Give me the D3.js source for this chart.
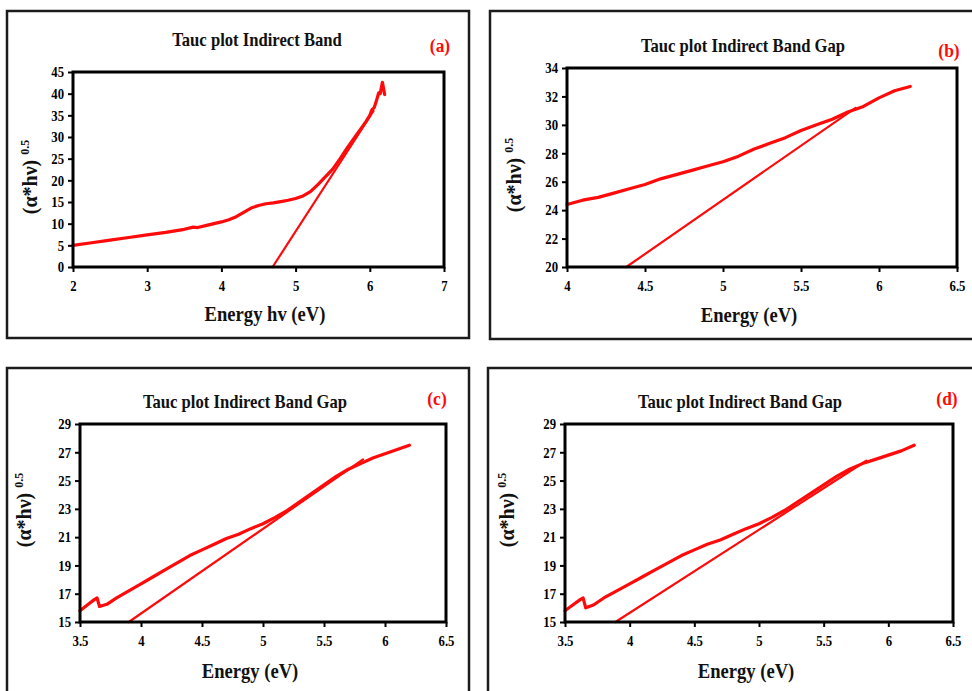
<!DOCTYPE html>
<html>
<head>
<meta charset="utf-8">
<script src="https://cdn.jsdelivr.net/npm/d3@7"></script>
<style>
  html, body { margin: 0; padding: 0; background: #ffffff; }
  svg { display: block; }
</style>
</head>
<body>
<div id="chart"></div>
<script>
// ---------- Data ----------
const panelTags = ["(a)", "(b)", "(c)", "(d)"];
const panelTitles = [
  "Tauc plot Indirect Band",
  "Tauc plot Indirect Band Gap",
  "Tauc plot Indirect Band Gap",
  "Tauc plot Indirect Band Gap"
];
const xAxisTitles = ["Energy hv (eV)", "Energy (eV)", "Energy (eV)", "Energy (eV)"];
const yAxisTitle = "(\u03b1*h\u03bd) ";
const yAxisPower = "0.5";

// (a) measured curve and linear extrapolation
const aEnergy = [2.0, 2.25, 2.5, 2.75, 3.0, 3.25, 3.5, 3.62, 3.68, 3.8, 4.0, 4.1, 4.2, 4.3, 4.4, 4.5, 4.6, 4.7, 4.8, 4.9, 5.0, 5.1, 5.2, 5.3, 5.4, 5.5, 5.6, 5.7, 5.8, 5.9, 5.95, 6.0, 6.03, 6.06, 6.09, 6.12, 6.14, 6.17, 6.2];
const aTauc   = [5.0, 5.6, 6.2, 6.8, 7.4, 8.0, 8.7, 9.2, 9.1, 9.6, 10.4, 10.9, 11.6, 12.6, 13.6, 14.2, 14.6, 14.8, 15.1, 15.4, 15.8, 16.4, 17.4, 19.0, 20.8, 22.6, 25.0, 27.6, 30.0, 32.4, 33.6, 35.0, 36.3, 36.8, 38.4, 40.2, 40.0, 42.6, 39.8];
const aFitEnergy = [4.69, 6.05];
const aFitTauc   = [0, 36.0];
const aXTicks = [2, 3, 4, 5, 6, 7];
const aYTicks = [0, 5, 10, 15, 20, 25, 30, 35, 40, 45];

// (b)
const bEnergy = [4.0, 4.1, 4.2, 4.3, 4.4, 4.5, 4.6, 4.7, 4.8, 4.9, 5.0, 5.1, 5.2, 5.3, 5.4, 5.5, 5.6, 5.7, 5.8, 5.9, 6.0, 6.1, 6.2];
const bTauc   = [24.4, 24.7, 24.9, 25.2, 25.5, 25.8, 26.2, 26.5, 26.8, 27.1, 27.4, 27.8, 28.3, 28.7, 29.1, 29.6, 30.0, 30.4, 30.9, 31.3, 31.9, 32.4, 32.7];
const bFitEnergy = [4.38, 5.85];
const bFitTauc   = [20, 31.2];
const bXTicks = [4, 4.5, 5, 5.5, 6, 6.5];
const bYTicks = [20, 22, 24, 26, 28, 30, 32, 34];

// (c)
const cEnergy = [3.5, 3.56, 3.62, 3.64, 3.66, 3.72, 3.8, 3.9, 4.0, 4.1, 4.2, 4.3, 4.4, 4.5, 4.6, 4.7, 4.8, 4.9, 5.0, 5.1, 5.2, 5.3, 5.4, 5.5, 5.6, 5.7, 5.8, 5.9, 6.0, 6.1, 6.2];
const cTauc   = [15.8, 16.2, 16.6, 16.7, 16.1, 16.25, 16.7, 17.2, 17.7, 18.2, 18.7, 19.2, 19.7, 20.1, 20.5, 20.9, 21.2, 21.6, 21.95, 22.4, 22.9, 23.5, 24.1, 24.7, 25.3, 25.8, 26.2, 26.6, 26.9, 27.2, 27.5];
const cFitEnergy = [3.9, 5.82];
const cFitTauc   = [15, 26.5];
const cXTicks = [3.5, 4, 4.5, 5, 5.5, 6, 6.5];
const cYTicks = [15, 17, 19, 21, 23, 25, 27, 29];

// (d)
const dEnergy = [3.5, 3.56, 3.62, 3.64, 3.66, 3.72, 3.8, 3.9, 4.0, 4.1, 4.2, 4.3, 4.4, 4.5, 4.6, 4.7, 4.8, 4.9, 5.0, 5.1, 5.2, 5.3, 5.4, 5.5, 5.6, 5.7, 5.8, 5.9, 6.0, 6.1, 6.2];
const dTauc   = [15.8, 16.2, 16.6, 16.7, 16.0, 16.2, 16.7, 17.2, 17.7, 18.2, 18.7, 19.2, 19.7, 20.1, 20.5, 20.8, 21.2, 21.6, 21.95, 22.4, 22.9, 23.5, 24.1, 24.7, 25.3, 25.8, 26.2, 26.5, 26.8, 27.1, 27.5];
const dFitEnergy = [3.89, 5.83];
const dFitTauc   = [15, 26.4];
const dXTicks = [3.5, 4, 4.5, 5, 5.5, 6, 6.5];
const dYTicks = [15, 17, 19, 21, 23, 25, 27, 29];

// ---------- Layout ----------
const W = 972, H = 691;
const layout = [
  { frame: [7, 11, 462, 327], plot: { left: 73, right: 444, top: 72, bottom: 267 },
    title: [257, 46], tag: [440, 52], xTitle: [265, 321], yTitle: [37, 177] },
  { frame: [490, 11, 500, 328], plot: { left: 567, right: 957, top: 68, bottom: 267 },
    title: [743, 52], tag: [949, 57], xTitle: [749, 322], yTitle: [521, 175] },
  { frame: [7, 368, 462, 340], plot: { left: 80, right: 446, top: 424, bottom: 622 },
    title: [245, 408], tag: [437, 405], xTitle: [250, 678], yTitle: [31, 510] },
  { frame: [488, 368, 500, 340], plot: { left: 565, right: 953, top: 424, bottom: 622 },
    title: [740, 408], tag: [947, 405], xTitle: [746, 678], yTitle: [514, 510] }
];

const panels = [
  { energy: aEnergy, tauc: aTauc, fitE: aFitEnergy, fitT: aFitTauc, xTicks: aXTicks, yTicks: aYTicks },
  { energy: bEnergy, tauc: bTauc, fitE: bFitEnergy, fitT: bFitTauc, xTicks: bXTicks, yTicks: bYTicks },
  { energy: cEnergy, tauc: cTauc, fitE: cFitEnergy, fitT: cFitTauc, xTicks: cXTicks, yTicks: cYTicks },
  { energy: dEnergy, tauc: dTauc, fitE: dFitEnergy, fitT: dFitTauc, xTicks: dXTicks, yTicks: dYTicks }
];

const FONT = "'Liberation Serif', 'Times New Roman', serif";
const RED = "#ff0a0a";
const TICK_SQUEEZE = 0.85;
const fmt = v => String(v);

const svg = d3.select("#chart").append("svg")
  .attr("width", W).attr("height", H)
  .attr("viewBox", `0 0 ${W} ${H}`);

panels.forEach((d, i) => {
  const L = layout[i];
  const g = svg.append("g");

  // panel frame
  g.append("rect")
    .attr("x", L.frame[0]).attr("y", L.frame[1])
    .attr("width", L.frame[2]).attr("height", L.frame[3])
    .attr("fill", "none").attr("stroke", "#1c1c1c").attr("stroke-width", 2.5);

  const xDom = d3.extent(d.xTicks), yDom = d3.extent(d.yTicks);
  const x = d3.scaleLinear().domain(xDom).range([L.plot.left, L.plot.right]);
  const y = d3.scaleLinear().domain(yDom).range([L.plot.bottom, L.plot.top]);

  const pts = d.energy.map((e, k) => [e, d.tauc[k]]);
  const fit = d.fitE.map((e, k) => [e, d.fitT[k]]);
  const line = d3.line().x(p => x(p[0])).y(p => y(p[1]));

  // extrapolated straight line
  g.append("path").datum(fit)
    .attr("d", line)
    .attr("fill", "none").attr("stroke", RED)
    .attr("stroke-width", 2.2).attr("stroke-linecap", "round");

  // measured Tauc curve
  g.append("path").datum(pts)
    .attr("d", line)
    .attr("fill", "none").attr("stroke", RED)
    .attr("stroke-width", 3.2).attr("stroke-linejoin", "round").attr("stroke-linecap", "round");

  // plot-area border
  g.append("rect")
    .attr("x", L.plot.left).attr("y", L.plot.top)
    .attr("width", L.plot.right - L.plot.left).attr("height", L.plot.bottom - L.plot.top)
    .attr("fill", "none").attr("stroke", "#000").attr("stroke-width", 3);

  // x axis
  const xa = g.append("g")
    .attr("transform", `translate(0,${L.plot.bottom})`)
    .call(d3.axisBottom(x).tickValues(d.xTicks).tickFormat(fmt)
      .tickSize(5).tickSizeOuter(0).tickPadding(8));
  xa.select(".domain").remove();
  xa.selectAll(".tick line").attr("stroke", "#000").attr("stroke-width", 2);
  xa.selectAll(".tick text")
    .attr("font-family", FONT).attr("font-weight", "bold").attr("font-size", 15)
    .attr("fill", "#000")
    .attr("transform", `scale(${TICK_SQUEEZE},1)`);

  // y axis
  const ya = g.append("g")
    .attr("transform", `translate(${L.plot.left},0)`)
    .call(d3.axisLeft(y).tickValues(d.yTicks).tickFormat(fmt)
      .tickSize(5).tickSizeOuter(0).tickPadding(4));
  ya.select(".domain").remove();
  ya.selectAll(".tick line").attr("stroke", "#000").attr("stroke-width", 2);
  ya.selectAll(".tick text")
    .attr("font-family", FONT).attr("font-weight", "bold").attr("font-size", 15)
    .attr("fill", "#000")
    .attr("x", -9 / TICK_SQUEEZE)
    .attr("transform", `scale(${TICK_SQUEEZE},1)`);

  // title
  g.append("text")
    .attr("transform", `translate(${L.title[0]},${L.title[1]}) scale(0.9,1)`)
    .attr("text-anchor", "middle")
    .attr("font-family", FONT).attr("font-weight", "bold").attr("font-size", 18.5)
    .attr("fill", "#111")
    .text(panelTitles[i]);

  // panel tag
  g.append("text")
    .attr("transform", `translate(${L.tag[0]},${L.tag[1]}) scale(0.92,1)`)
    .attr("text-anchor", "middle")
    .attr("font-family", FONT).attr("font-weight", "bold").attr("font-size", 19)
    .attr("fill", RED)
    .text(panelTags[i]);

  // x axis title
  g.append("text")
    .attr("transform", `translate(${L.xTitle[0]},${L.xTitle[1]}) scale(0.93,1)`)
    .attr("text-anchor", "middle")
    .attr("font-family", FONT).attr("font-weight", "bold").attr("font-size", 20)
    .attr("fill", "#111")
    .text(xAxisTitles[i]);

  // y axis title with exponent
  const yt = g.append("text")
    .attr("transform", `translate(${L.yTitle[0]},${L.yTitle[1]}) rotate(-90)`)
    .attr("text-anchor", "middle")
    .attr("font-family", FONT).attr("font-weight", "bold").attr("font-size", 20)
    .attr("fill", "#111");
  yt.append("tspan").text(yAxisTitle);
  yt.append("tspan").attr("font-size", 12).attr("dy", -8).text(yAxisPower);
});
</script>
</body>
</html>
